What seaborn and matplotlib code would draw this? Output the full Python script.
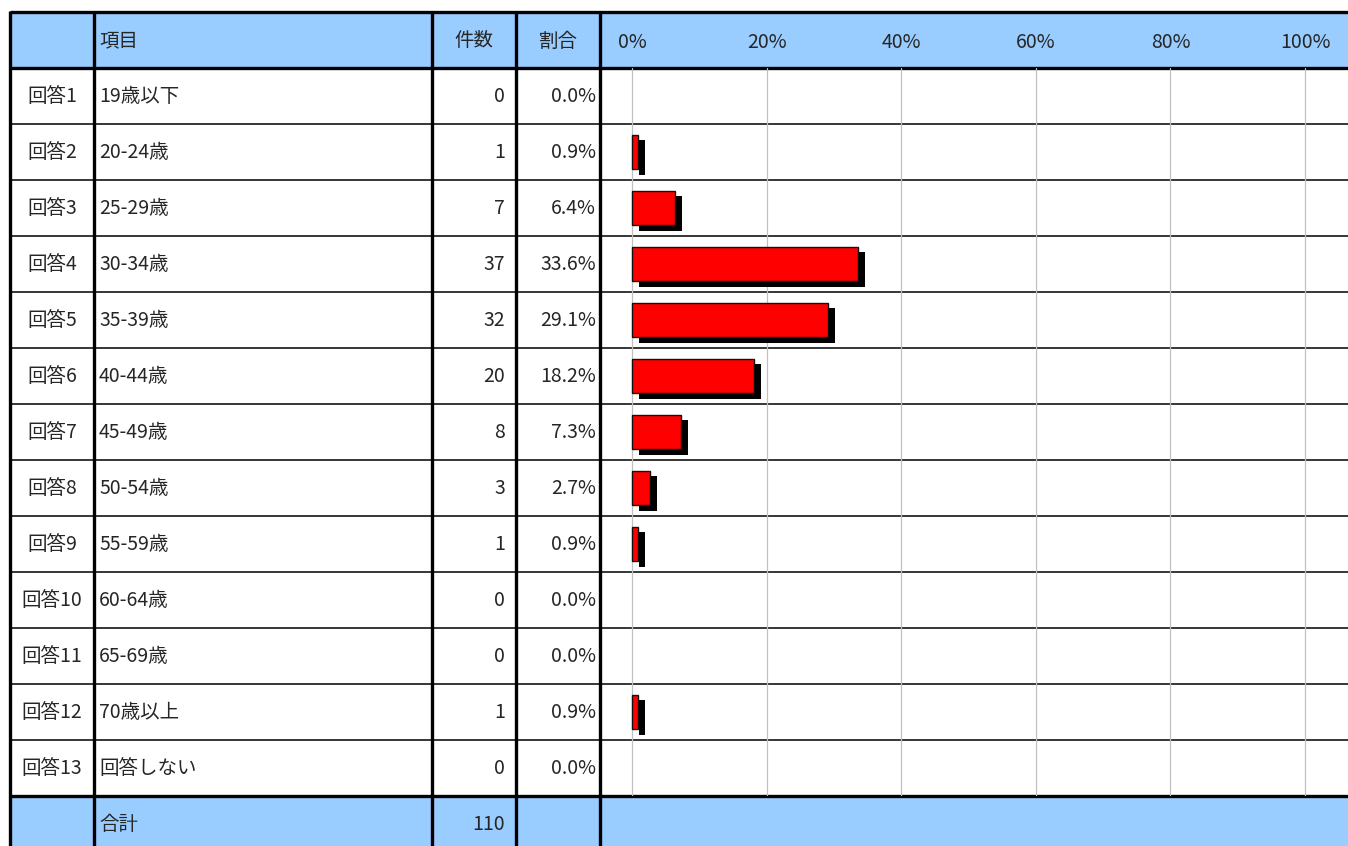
import matplotlib
matplotlib.use("Agg")
import matplotlib.pyplot as plt
import matplotlib.patheffects as pe
from matplotlib import font_manager
import seaborn as sns
import pandas as pd

# ---- data ----
codes = ["回答1", "回答2", "回答3", "回答4", "回答5", "回答6", "回答7",
         "回答8", "回答9", "回答10", "回答11", "回答12", "回答13"]
items = ["19歳以下", "20-24歳", "25-29歳", "30-34歳", "35-39歳", "40-44歳",
         "45-49歳", "50-54歳", "55-59歳", "60-64歳", "65-69歳", "70歳以上", "回答しない"]
counts = [0, 1, 7, 37, 32, 20, 8, 3, 1, 0, 0, 1, 0]
ratios = [0.0, 0.9, 6.4, 33.6, 29.1, 18.2, 7.3, 2.7, 0.9, 0.0, 0.0, 0.9, 0.0]
total_label = "合計"
total_count = 110
headers = ["項目", "件数", "割合"]
tick_values = [0, 20, 40, 60, 80, 100]
tick_labels = ["0%", "20%", "40%", "60%", "80%", "100%"]

sns.set_theme(style="white")
installed = {f.name for f in font_manager.fontManager.ttflist}
fams = []
if "Liberation Sans Narrow" in installed:
    fams.append("Liberation Sans Narrow")
fams += ["Noto Sans CJK JP", "DejaVu Sans"]
plt.rcParams["font.family"] = fams

W, H = 1348, 846
fig = plt.figure(figsize=(W / 100, H / 100), dpi=100)

# ---- background table axes (pixel coordinates) ----
bg = fig.add_axes([0, 0, 1, 1])
bg.set_xlim(0, W)
bg.set_ylim(H, 0)
bg.axis("off")

top, head_bot = 12, 68
row_h = 56
n = len(codes)
tot_top = head_bot + n * row_h  # 796
tot_bot = tot_top + row_h
x_left, x_item, x_cnt, x_rat, x_chart = 10, 94, 432, 516, 600
blue = "#99CCFF"
fs = 14

bg.fill_between([x_left, W], top, head_bot, color=blue, lw=0, zorder=0)
bg.fill_between([x_left, W], tot_top, tot_bot, color=blue, lw=0, zorder=0)

# thin row separators
for i in range(1, n):
    y = head_bot + i * row_h
    bg.plot([x_left, W], [y, y], color="black", lw=1.1, zorder=2)
# thick lines
for y in [top, head_bot, tot_top]:
    bg.plot([x_left, W], [y, y], color="black", lw=2.4, zorder=3, solid_capstyle="butt")
for x in [x_left, x_item, x_cnt, x_rat, x_chart]:
    bg.plot([x, x], [top - 1, H], color="black", lw=2.4, zorder=3, solid_capstyle="butt")

# header texts
hy = (top + head_bot) / 2 + 1
bg.text(x_item + 5, hy, headers[0], ha="left", va="center", fontsize=fs)
bg.text((x_cnt + x_rat) / 2, hy, headers[1], ha="center", va="center", fontsize=fs)
bg.text((x_rat + x_chart) / 2, hy, headers[2], ha="center", va="center", fontsize=fs)

# rows
for i in range(n):
    yc = head_bot + i * row_h + row_h / 2 + 1
    bg.text((x_left + x_item) / 2, yc, codes[i], ha="center", va="center", fontsize=fs)
    bg.text(x_item + 5, yc, items[i], ha="left", va="center", fontsize=fs)
    bg.text(x_rat - 11, yc, f"{counts[i]}", ha="right", va="center", fontsize=fs)
    bg.text(x_chart - 4, yc, f"{ratios[i]:.1f}%", ha="right", va="center", fontsize=fs)

ty = tot_top + row_h / 2 + 1
bg.text(x_item + 5, ty, total_label, ha="left", va="center", fontsize=fs)
bg.text(x_rat - 11, ty, f"{total_count}", ha="right", va="center", fontsize=fs)

# ---- chart axes ----
px0, px100 = 632, 1305
scale = (px100 - px0) / 100.0
ax = fig.add_axes([x_chart / W, (H - tot_top) / H, (W - x_chart) / W, (tot_top - head_bot) / H])
ax.patch.set_alpha(0)

df = pd.DataFrame({"item": items, "ratio": ratios})
sns.barplot(data=df, x="ratio", y="item", orient="h", ax=ax, color="#FF0000",
            saturation=1, edgecolor="#111111", linewidth=1.0, width=0.62, zorder=3)

for p in ax.patches:
    if p.get_width() <= 0:
        p.set_visible(False)
    else:
        p.set_path_effects([pe.SimplePatchShadow(offset=(4.8, -4), shadow_rgbFace="black", alpha=1.0),
                            pe.Normal()])

ax.set_xlim(-(px0 - x_chart) / scale, (W - px0) / scale)
ax.set_ylim(n - 0.5, -0.5)
ax.xaxis.tick_top()
ax.set_xticks(tick_values)
ax.set_xticklabels(tick_labels, fontsize=fs)
ax.tick_params(axis="x", length=0, pad=11)
ax.set_yticks([])
ax.set_xlabel("")
ax.set_ylabel("")
ax.grid(axis="x", color="#C0C0C0", lw=0.9, zorder=0)
ax.set_axisbelow(True)
for s in ax.spines.values():
    s.set_visible(False)

fig.savefig("out.png", dpi=100)
